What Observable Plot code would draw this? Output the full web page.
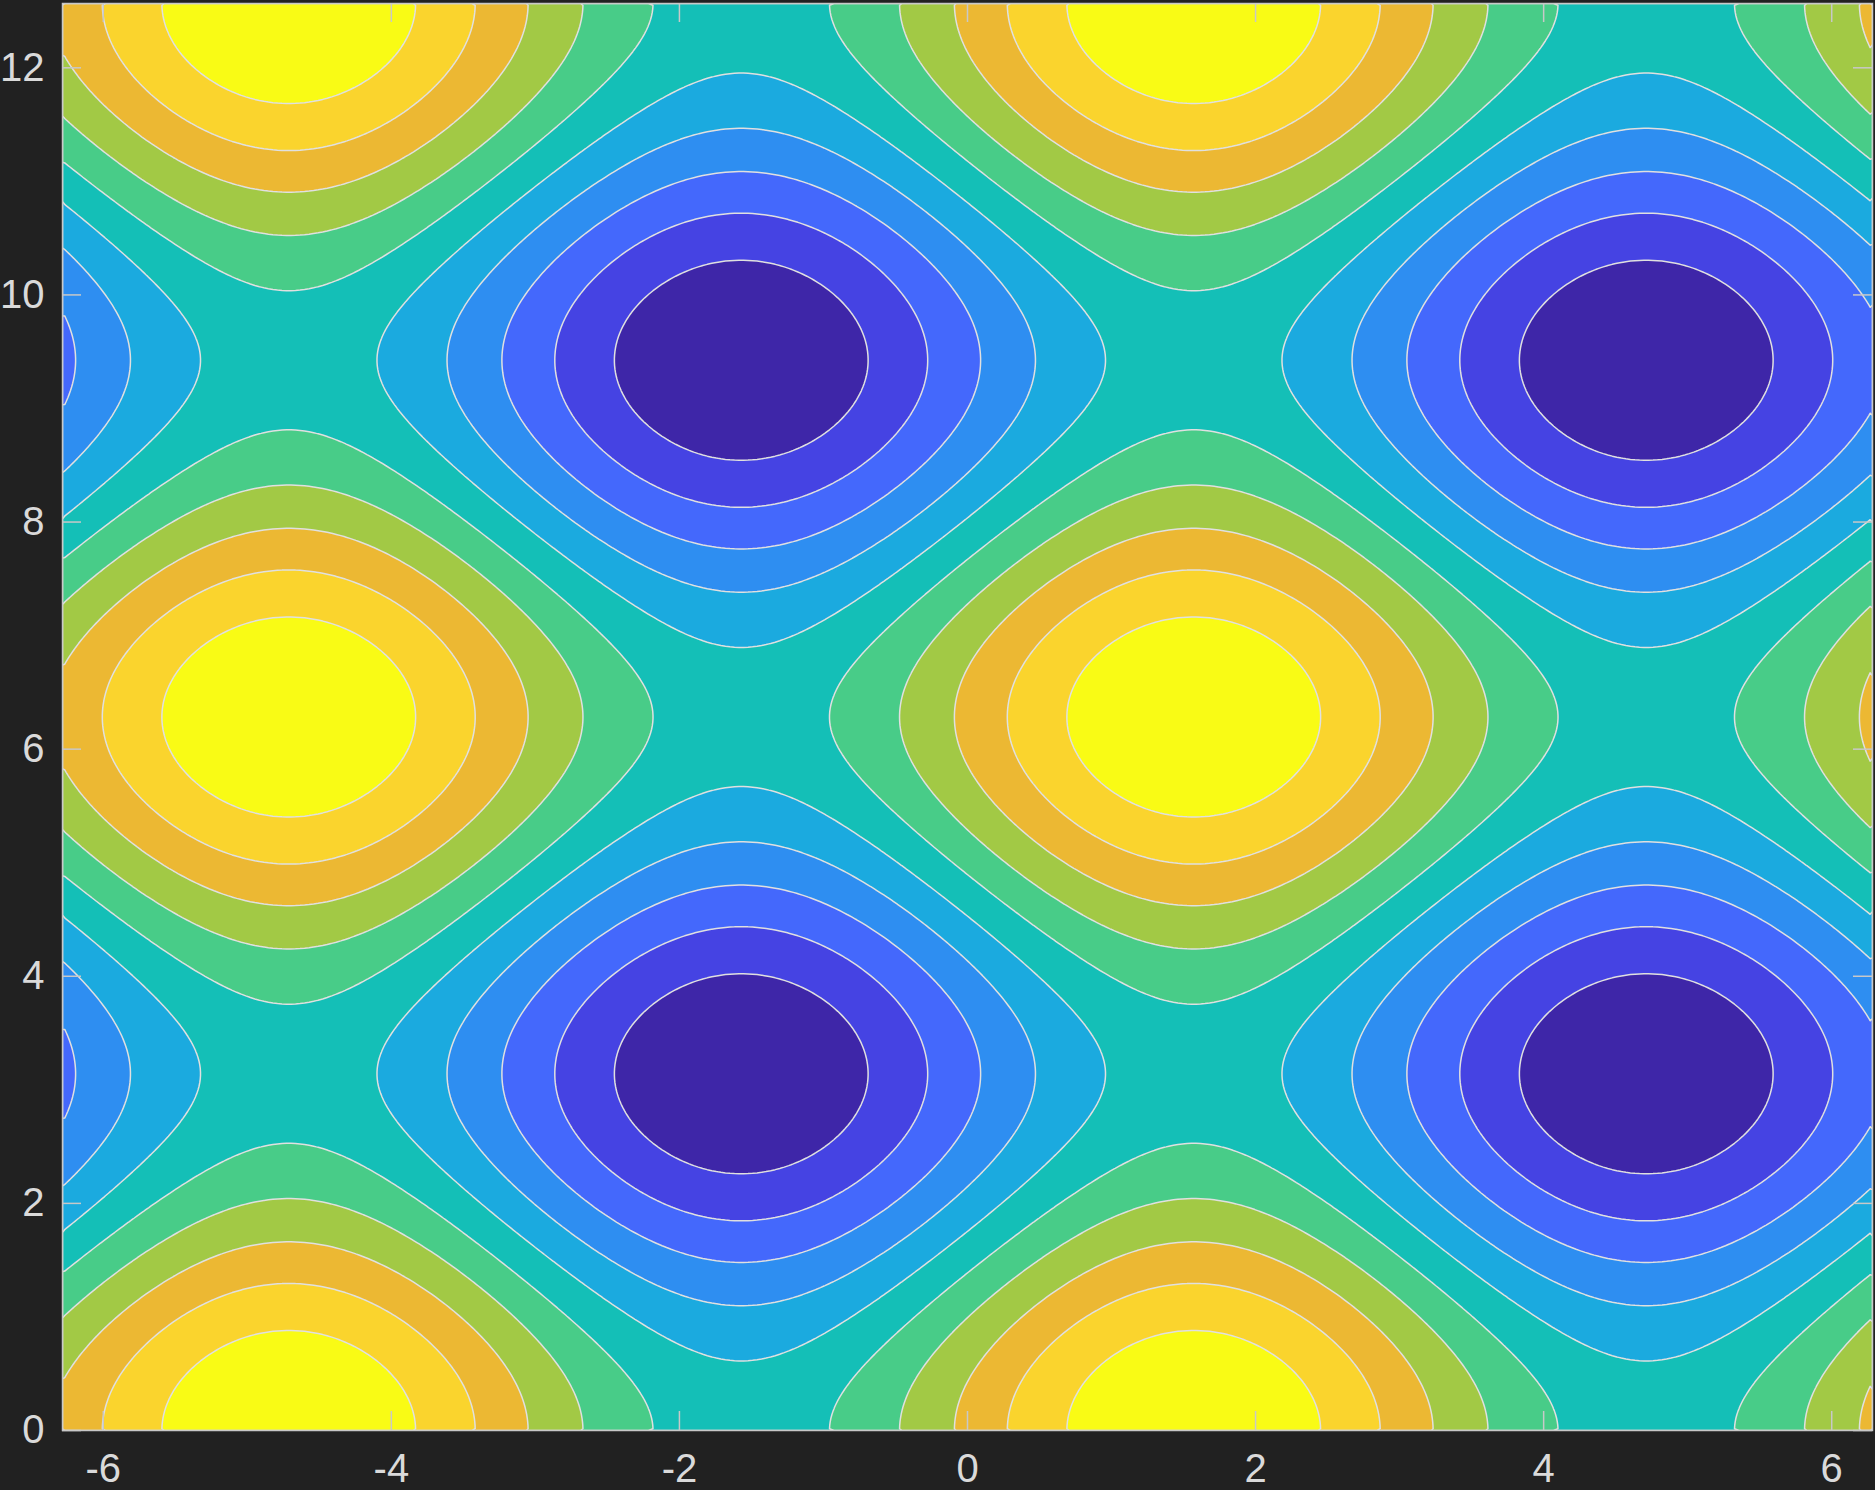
<!DOCTYPE html>
<html>
<head>
<meta charset="utf-8">
<script src="https://cdn.jsdelivr.net/npm/d3@7"></script>
<script src="https://cdn.jsdelivr.net/npm/@observablehq/plot@0.6"></script>
<style>
  html, body { margin: 0; padding: 0; background: #212121; }
  svg { display: block; }
</style>
</head>
<body>
<div id="chart"></div>
<script>
// Surface: Z = sin(X) + cos(Y) on X in [-2π, 2π], Y in [0, 4π]
const xExtent = [-2 * Math.PI, 2 * Math.PI];
const yExtent = [0, 4 * Math.PI];
const nx = 400, ny = 400;
const xGrid = Array.from({length: nx}, (_, i) => xExtent[0] + (i + 0.5) * (xExtent[1] - xExtent[0]) / nx);
const yGrid = Array.from({length: ny}, (_, j) => yExtent[0] + (j + 0.5) * (yExtent[1] - yExtent[0]) / ny);
const zValues = [];
for (const y of yGrid) for (const x of xGrid) zValues.push(Math.sin(x) + Math.cos(y));

// Contour levels (10 levels between min -2 and max 2)
const levels = [-1.6364, -1.2727, -0.9091, -0.5455, -0.1818, 0.1818, 0.5455, 0.9091, 1.2727, 1.6364];
// Band colours, lowest band first
const bandColors = ["#3e26a8", "#4543e3", "#4468fc", "#2e8ef1", "#1baadf", "#14bfb7", "#48cc88", "#a2c945", "#ecb833", "#fad42d", "#f9fb15"];

const xTicks = [-6, -4, -2, 0, 2, 4, 6];
const yTicks = [0, 2, 4, 6, 8, 10, 12];

const W = 1875, H = 1490;
const mL = 62, mR = 3, mT = 3, mB = 60;
const plotW = W - mL - mR, plotH = H - mT - mB;
const tickLen = 19;
const lineColor = "#c8c8c8";

const chart = Plot.plot({
  width: W,
  height: H,
  marginLeft: mL,
  marginRight: mR,
  marginTop: mT,
  marginBottom: mB,
  style: {background: "#212121", color: "#dadada", fontFamily: "'Liberation Sans', Arial, Helvetica, sans-serif", fontSize: "40px"},
  x: {domain: xExtent, label: null},
  y: {domain: yExtent, label: null},
  color: {type: "ordinal", domain: levels, range: bandColors.slice(1)},
  marks: [
    Plot.frame({fill: bandColors[0]}),
    Plot.contour(zValues, {
      width: nx, height: ny,
      x1: xExtent[0], x2: xExtent[1], y1: yExtent[0], y2: yExtent[1],
      fill: Plot.identity,
      thresholds: levels,
      stroke: "#e0e0e0",
      strokeWidth: 1.5,
      clip: true
    }),
    Plot.frame({stroke: lineColor, strokeWidth: 1.5}),
    Plot.ruleX(xTicks, {x: d => d, stroke: lineColor, strokeWidth: 1.5, insetTop: plotH - tickLen}),
    Plot.ruleX(xTicks, {x: d => d, stroke: lineColor, strokeWidth: 1.5, insetBottom: plotH - tickLen}),
    Plot.ruleY(yTicks, {y: d => d, stroke: lineColor, strokeWidth: 1.5, insetRight: plotW - tickLen}),
    Plot.ruleY(yTicks, {y: d => d, stroke: lineColor, strokeWidth: 1.5, insetLeft: plotW - tickLen}),
    Plot.axisX(xTicks, {tickSize: 0, tickPadding: 23, tickFormat: d => String(d), fontSize: 40, fill: "#dadada"}),
    Plot.axisY(yTicks, {tickSize: 0, tickPadding: 18, tickFormat: d => String(d), fontSize: 40, fill: "#dadada"})
  ]
});
document.getElementById("chart").append(chart);
</script>
</body>
</html>
